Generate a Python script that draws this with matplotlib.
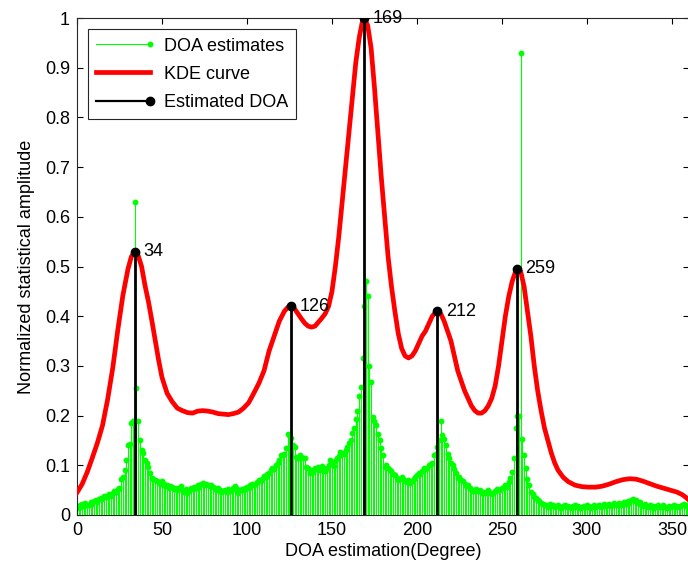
import numpy as np
import matplotlib
matplotlib.use('Agg')
import matplotlib.pyplot as plt
from matplotlib.lines import Line2D
from matplotlib.legend_handler import HandlerLine2D

plt.rcParams['font.family'] = ['Liberation Sans', 'DejaVu Sans']
plt.rcParams['font.size'] = 13

# histogram of DOA estimates, one bin per degree (0..359)
doa_deg = np.arange(0, 360)
doa_hist = [
    0.017, 0.015, 0.020, 0.022, 0.018, 0.024, 0.021, 0.020, 0.026, 0.023,
    0.028, 0.030, 0.027, 0.033, 0.035, 0.032, 0.038, 0.036, 0.040, 0.042,
    0.039, 0.045, 0.048, 0.046, 0.052, 0.055, 0.072, 0.076, 0.090, 0.110,
    0.140, 0.143, 0.185, 0.190, 0.630, 0.255, 0.190, 0.150, 0.131, 0.125,
    0.110, 0.104, 0.097, 0.085, 0.074, 0.072, 0.070, 0.068, 0.066, 0.063,
    0.068, 0.062, 0.058, 0.061, 0.055, 0.059, 0.056, 0.052, 0.055, 0.050,
    0.054, 0.058, 0.050, 0.047, 0.052, 0.044, 0.049, 0.055, 0.052, 0.056,
    0.055, 0.060, 0.057, 0.062, 0.064, 0.060, 0.063, 0.060, 0.058, 0.061,
    0.057, 0.055, 0.050, 0.054, 0.050, 0.047, 0.049, 0.050, 0.046, 0.052,
    0.048, 0.050, 0.054, 0.059, 0.052, 0.044, 0.050, 0.053, 0.051, 0.054,
    0.057, 0.055, 0.060, 0.062, 0.060, 0.063, 0.066, 0.070, 0.068, 0.073,
    0.078, 0.077, 0.082, 0.085, 0.090, 0.095, 0.093, 0.100, 0.105, 0.110,
    0.120, 0.120, 0.123, 0.135, 0.163, 0.160, 0.155, 0.141, 0.137, 0.117,
    0.115, 0.120, 0.117, 0.114, 0.115, 0.097, 0.095, 0.085, 0.090, 0.087,
    0.095, 0.092, 0.096, 0.090, 0.099, 0.094, 0.088, 0.095, 0.100, 0.110,
    0.104, 0.099, 0.108, 0.115, 0.118, 0.126, 0.124, 0.122, 0.130, 0.137,
    0.145, 0.151, 0.165, 0.175, 0.193, 0.210, 0.239, 0.257, 0.316, 0.420,
    0.470, 0.440, 0.300, 0.268, 0.198, 0.190, 0.181, 0.163, 0.150, 0.135,
    0.120, 0.097, 0.100, 0.095, 0.090, 0.088, 0.082, 0.080, 0.075, 0.070,
    0.072, 0.077, 0.072, 0.068, 0.067, 0.070, 0.065, 0.068, 0.072, 0.077,
    0.080, 0.084, 0.082, 0.088, 0.095, 0.093, 0.095, 0.100, 0.103, 0.105,
    0.120, 0.122, 0.137, 0.150, 0.189, 0.160, 0.153, 0.140, 0.123, 0.115,
    0.105, 0.100, 0.093, 0.085, 0.075, 0.077, 0.070, 0.068, 0.062, 0.059,
    0.060, 0.055, 0.052, 0.048, 0.050, 0.053, 0.049, 0.050, 0.045, 0.047,
    0.044, 0.046, 0.050, 0.045, 0.043, 0.044, 0.048, 0.052, 0.050, 0.050,
    0.055, 0.057, 0.060, 0.057, 0.067, 0.075, 0.087, 0.115, 0.175, 0.200,
    0.200, 0.930, 0.152, 0.120, 0.095, 0.072, 0.060, 0.047, 0.042, 0.037,
    0.034, 0.030, 0.028, 0.024, 0.022, 0.020, 0.020, 0.017, 0.022, 0.018,
    0.020, 0.016, 0.019, 0.021, 0.017, 0.015, 0.018, 0.020, 0.016, 0.019,
    0.017, 0.014, 0.018, 0.020, 0.016, 0.018, 0.015, 0.017, 0.019, 0.016,
    0.020, 0.018, 0.015, 0.017, 0.020, 0.016, 0.018, 0.021, 0.017, 0.019,
    0.022, 0.018, 0.020, 0.023, 0.019, 0.021, 0.024, 0.020, 0.022, 0.025,
    0.021, 0.024, 0.026, 0.023, 0.028, 0.025, 0.030, 0.033, 0.028, 0.030,
    0.024, 0.026, 0.021, 0.018, 0.022, 0.019, 0.016, 0.020, 0.018, 0.015,
    0.019, 0.017, 0.020, 0.016, 0.018, 0.021, 0.017, 0.015, 0.019, 0.016,
    0.018, 0.020, 0.017, 0.019, 0.016, 0.018, 0.020, 0.022, 0.019, 0.020,
]

# kernel density estimate (normalized)
kde_deg = [0, 3, 6, 9, 12, 15, 18, 21, 24, 27, 30, 32, 34, 36, 38, 40, 42, 44,
           46, 48, 50, 53, 56, 59, 62, 65, 68, 71, 74, 77, 80, 83, 86, 89, 92,
           95, 98, 101, 104, 107, 110, 113, 116, 119, 122, 124, 126, 128, 130,
           132, 134, 136, 138, 140, 142, 144, 146, 148, 150, 152, 154, 156,
           158, 160, 162, 164, 166, 168, 169, 171, 173, 175, 177, 179, 181,
           183, 185, 187, 189, 191, 193, 195, 197, 199, 201, 203, 205, 207,
           209, 211, 212, 214, 216, 218, 220, 222, 224, 226, 228, 230, 232,
           234, 236, 238, 240, 242, 244, 246, 248, 250, 252, 254, 256, 258,
           259, 261, 263, 265, 267, 269, 271, 273, 275, 277, 279, 281, 283,
           286, 289, 293, 297, 301, 305, 309, 313, 317, 321, 325, 329, 333,
           337, 341, 345, 349, 353, 356, 358, 360]
kde_val = [0.045, 0.062, 0.086, 0.115, 0.145, 0.180, 0.232, 0.295, 0.372,
           0.442, 0.495, 0.520, 0.530, 0.522, 0.500, 0.462, 0.430, 0.392,
           0.352, 0.312, 0.277, 0.245, 0.228, 0.215, 0.210, 0.206, 0.205,
           0.209, 0.210, 0.209, 0.207, 0.204, 0.203, 0.202, 0.204, 0.207,
           0.215, 0.226, 0.245, 0.265, 0.290, 0.330, 0.360, 0.390, 0.410,
           0.418, 0.420, 0.415, 0.405, 0.395, 0.386, 0.380, 0.378, 0.380,
           0.388, 0.396, 0.405, 0.420, 0.450, 0.500, 0.560, 0.630, 0.700,
           0.770, 0.840, 0.910, 0.960, 0.995, 1.000, 0.985, 0.940, 0.860,
           0.770, 0.680, 0.600, 0.520, 0.460, 0.410, 0.365, 0.335, 0.320,
           0.316, 0.320, 0.330, 0.345, 0.360, 0.370, 0.385, 0.400, 0.408,
           0.410, 0.405, 0.390, 0.370, 0.350, 0.320, 0.290, 0.270, 0.250,
           0.235, 0.220, 0.210, 0.205, 0.205, 0.210, 0.220, 0.235, 0.260,
           0.300, 0.350, 0.400, 0.440, 0.470, 0.490, 0.495, 0.490, 0.460,
           0.410, 0.360, 0.300, 0.250, 0.210, 0.175, 0.150, 0.125, 0.105,
           0.090, 0.076, 0.067, 0.060, 0.057, 0.056, 0.056, 0.058, 0.062,
           0.067, 0.071, 0.073, 0.072, 0.068, 0.063, 0.058, 0.054, 0.050,
           0.046, 0.041, 0.036, 0.030]

# picked peaks
peak_deg = [34, 126, 169, 212, 259]
peak_val = [0.530, 0.420, 1.000, 0.410, 0.495]


class EndMarkerHandler(HandlerLine2D):
    # matlab-style legend entry: marker sits at the right end of the line
    def create_artists(self, *args, **kwargs):
        arts = super().create_artists(*args, **kwargs)
        for a in arts:
            a.set_markevery([len(a.get_xdata()) - 1])
        return arts


fig = plt.figure(figsize=(6.88, 5.65), dpi=100)
ax = fig.add_axes([0.1119, 0.0885, 0.8895, 0.8796])

ml, sl, bl = ax.stem(doa_deg, doa_hist, linefmt='-', markerfmt='o', basefmt=' ')
plt.setp(sl, color='#00ff00', linewidth=0.8)
plt.setp(ml, color='#00ff00', markersize=3.2)
ml.set_zorder(2)
sl.set_zorder(2)

ax.plot(kde_deg, kde_val, color='#ff0000', linewidth=3.4, zorder=3)

pm, ps, pb = ax.stem(peak_deg, peak_val, linefmt='-', markerfmt='o', basefmt=' ')
plt.setp(ps, color='black', linewidth=2.0, zorder=4)
plt.setp(pm, color='black', markersize=6, zorder=5)

for d, v in zip(peak_deg, peak_val):
    ax.annotate(str(d), (d, v), xytext=(6, 0), textcoords='offset points',
                ha='left', va='center', fontsize=13, zorder=6)

ax.set_xlim(0, 360)
ax.set_ylim(0, 1)
ax.set_xticks(np.arange(0, 351, 50))
ax.set_yticks(np.arange(0, 1.01, 0.1))
ax.set_yticklabels(['0', '0.1', '0.2', '0.3', '0.4', '0.5', '0.6', '0.7', '0.8', '0.9', '1'])
ax.tick_params(direction='in', top=True, right=True, length=4, width=0.8, pad=5)
for s in ax.spines.values():
    s.set_color('#262626')
    s.set_linewidth(0.8)

ax.set_xlabel('DOA estimation(Degree)', labelpad=3)
ax.set_ylabel('Normalized statistical amplitude', labelpad=7)

handles = [
    Line2D([], [], color='#00ff00', linewidth=0.8, marker='o', markersize=3.2),
    Line2D([], [], color='#ff0000', linewidth=3.4),
    Line2D([], [], color='black', linewidth=1.6, marker='o', markersize=6),
]
labels = ['DOA estimates', 'KDE curve', 'Estimated DOA']
leg = ax.legend(handles, labels, loc='upper left', bbox_to_anchor=(0.018, 0.977),
                borderaxespad=0, handlelength=3.0, handletextpad=0.75,
                labelspacing=0.62, borderpad=0.45, fancybox=False,
                framealpha=1, edgecolor='#262626',
                handler_map={h: EndMarkerHandler(numpoints=1) for h in handles})
leg.get_frame().set_linewidth(0.8)

fig.savefig('out.png', dpi=100)
